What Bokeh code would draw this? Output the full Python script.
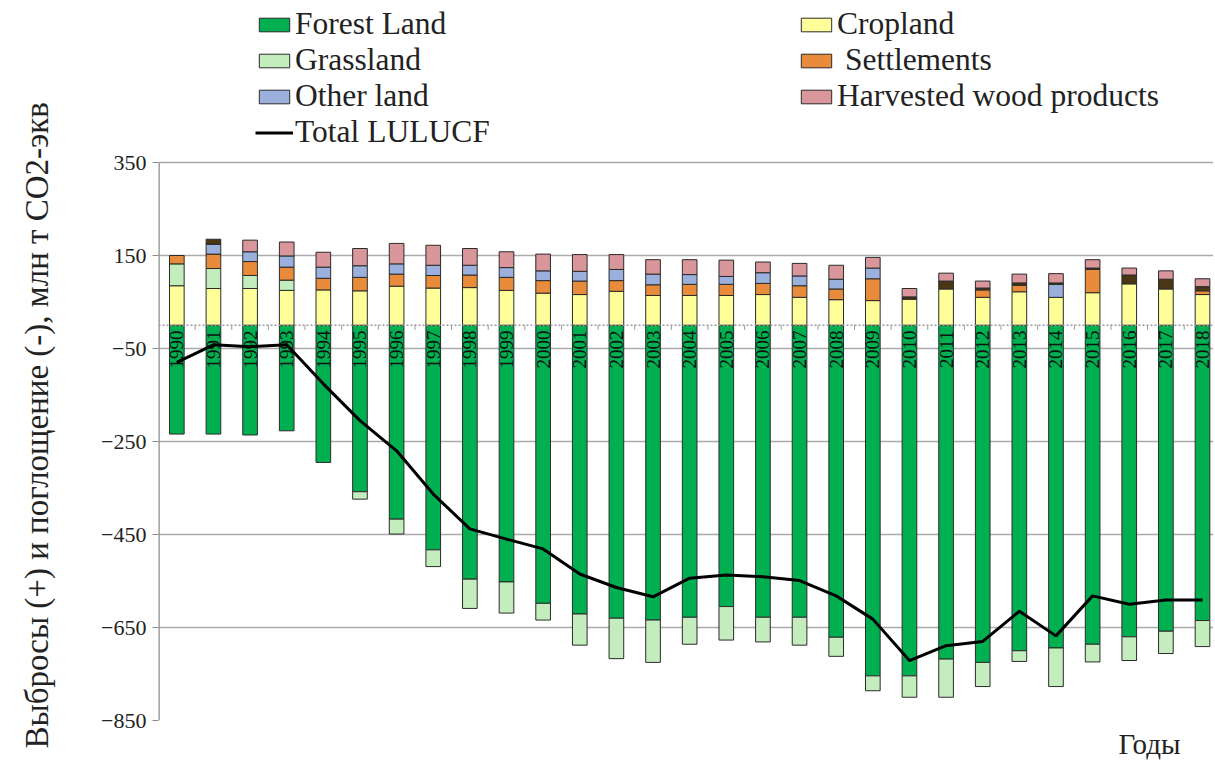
import numpy as np
from bokeh.plotting import figure
from bokeh.models import Legend, LegendItem, Span, Title, FixedTicker
from bokeh.core.properties import value
from bokeh.embed import file_html
from bokeh.resources import INLINE

years = [str(y) for y in range(1990, 2019)]

forest = [-234, -234, -236, -227, -295, -358, -417, -483, -546, -552, -598, -621, -630, -634,
          -628, -605, -628, -628, -671, -754, -754, -718, -725, -700, -694, -686, -670, -658, -635]
grassland = [47, 43, 28, 22, 0, -16, -32, -36, -63, -67, -36, -67, -87, -91,
             -58, -72, -53, -60, -41, -32, -46, -82, -52, -23, -83, -38, -51, -48, -56]
cropland = [85, 79, 79, 75, 76, 74, 84, 80, 81, 75, 69, 66, 73, 64,
            64, 64, 66, 60, 55, 53, 56, 78, 60, 72, 60, 70, 89, 78, 66]
settlements = [18, 31, 30, 28, 25, 29, 26, 27, 27, 28, 27, 29, 23, 23,
               24, 24, 24, 25, 23, 47, 0, 0, 16, 14, 0, 50, 0, 0, 8]
other_land = [0, 21, 21, 24, 24, 25, 22, 22, 21, 21, 21, 21, 24, 23,
              21, 17, 23, 21, 21, 23, 0, 0, 0, 0, 28, 0, 0, 0, 0]
dark_other = [0, 11, 0, 0, 0, 0, 0, 0, 0, 0, 0, 0, 0, 0,
              0, 0, 0, 0, 0, 0, 5, 17, 4, 5, 3, 3, 19, 21, 9]
hwp = [0, 0, 25, 30, 32, 37, 44, 43, 36, 34, 36, 36, 32, 31,
       32, 35, 23, 27, 30, 23, 18, 17, 15, 19, 20, 18, 15, 18, 17]
total = [-80, -42, -46, -42, -126, -205, -270, -363, -438, -460, -481, -535, -564, -584,
         -544, -537, -541, -549, -582, -632, -721, -689, -680, -615, -668, -582, -600, -591, -591]
y_ticks = [350, 150, -50, -250, -450, -650, -850]

SERIF = "Liberation Serif"
TXT = "#222222"
n = len(years)
x = np.arange(n)

series = [
    ("Forest Land", forest, "#00b050"),
    ("Cropland", cropland, "#ffff99"),
    ("Grassland", grassland, "#c4edbd"),
    (" Settlements", settlements, "#e88b3a"),
    ("Other land", other_land, "#9bb0dc"),
    (None, dark_other, "#4a3514"),
    ("Harvested wood products", hwp, "#d9969b"),
]

W, H = 1213, 765
PX_PER_UNIT = 558 / (y_ticks[0] - y_ticks[-1])
y_top = y_ticks[0] + 162 / PX_PER_UNIT   # room for the legend above the 350 line

p = figure(width=W, height=H, x_range=(-0.5, 28.3), y_range=(y_ticks[-1], y_top),
           output_backend="svg", toolbar_location=None,
           min_border_left=158, min_border_right=0, min_border_top=0, min_border_bottom=45)
p.outline_line_color = None
p.xaxis.visible = False
p.xgrid.visible = False

p.ygrid.ticker = FixedTicker(ticks=y_ticks)
p.ygrid.grid_line_color = "#ababab"
p.ygrid.grid_line_width = 1.5

ax = p.yaxis[0]
ax.ticker = FixedTicker(ticks=y_ticks)
ax.axis_line_color = None
ax.major_tick_line_color = "#8c8c8c"
ax.major_tick_out = 6
ax.major_tick_in = 0
ax.minor_tick_line_color = None
ax.major_label_text_font = SERIF
ax.major_label_text_font_size = "22px"
ax.major_label_text_color = TXT
ax.major_label_standoff = 6

# visible part of the y axis line: from the lowest to the highest tick
p.segment(x0=[-0.5], y0=[y_ticks[-1]], x1=[-0.5], y1=[y_ticks[0]],
          line_color="#8c8c8c", line_width=2.5)

renderers = {}
pos_base = np.zeros(n)
neg_base = np.zeros(n)
for name, vals, color in series:
    v = np.array(vals, dtype=float)
    top = np.where(v >= 0, pos_base + v, neg_base)
    bottom = np.where(v >= 0, pos_base, neg_base + v)
    pos_base = pos_base + np.where(v > 0, v, 0)
    neg_base = neg_base + np.where(v < 0, v, 0)
    m = v != 0
    renderers[name] = p.vbar(x=x[m], top=top[m], bottom=bottom[m], width=0.4, fill_color=color,
                             line_color="#2b2b2b", line_width=1)

# zero line and category ticks
p.add_layout(Span(location=0, dimension="width", line_color="#9a9a9a",
                  line_dash="2 2", line_width=1.5))
p.segment(x0=x[:-1] + 0.5, y0=0, x1=x[:-1] + 0.5, y1=-10, line_color="#9a9a9a", line_width=1)

# year labels inside the bars
p.text(x=x, y=-52, text=years, angle=np.pi / 2, text_align="center", text_baseline="middle",
       text_font=value(SERIF), text_font_size="19px", text_color="#111111")

r_line = p.line(x, total, line_color="black", line_width=3)

# y-axis title in the left panel (second blank line keeps it away from the tick labels)
p.add_layout(Title(text="Выбросы (+) и поглощение (-), млн т CO2-экв\n ", align="left",
                   offset=-28, standoff=16, vertical_align="bottom",
                   text_font=SERIF, text_font_size="33px",
                   text_font_style="normal", text_color=TXT), "left")

p.add_layout(Title(text="Годы", align="right", offset=33, standoff=10,
                   text_font=SERIF, text_font_size="29px", text_font_style="normal",
                   text_color=TXT), "below")

leg1 = Legend(items=[
    LegendItem(label="Forest Land", renderers=[renderers["Forest Land"]]),
    LegendItem(label="Grassland", renderers=[renderers["Grassland"]]),
    LegendItem(label="Other land", renderers=[renderers["Other land"]]),
    LegendItem(label="Total LULUCF", renderers=[r_line]),
], location=(97, 570))
leg2 = Legend(items=[
    LegendItem(label="Cropland", renderers=[renderers["Cropland"]]),
    LegendItem(label=" Settlements", renderers=[renderers[" Settlements"]]),
    LegendItem(label="Harvested wood products", renderers=[renderers["Harvested wood products"]]),
], location=(639, 606))
for lg in (leg1, leg2):
    lg.border_line_color = None
    lg.background_fill_alpha = 0
    lg.padding = 0
    lg.margin = 0
    lg.spacing = 0
    lg.glyph_width = 38
    lg.glyph_height = 17
    lg.label_standoff = 2
    lg.label_text_font = SERIF
    lg.label_text_font_size = "31.5px"
    lg.label_text_color = TXT
    p.add_layout(lg)

open("out.html", "w").write(file_html(p, INLINE))
